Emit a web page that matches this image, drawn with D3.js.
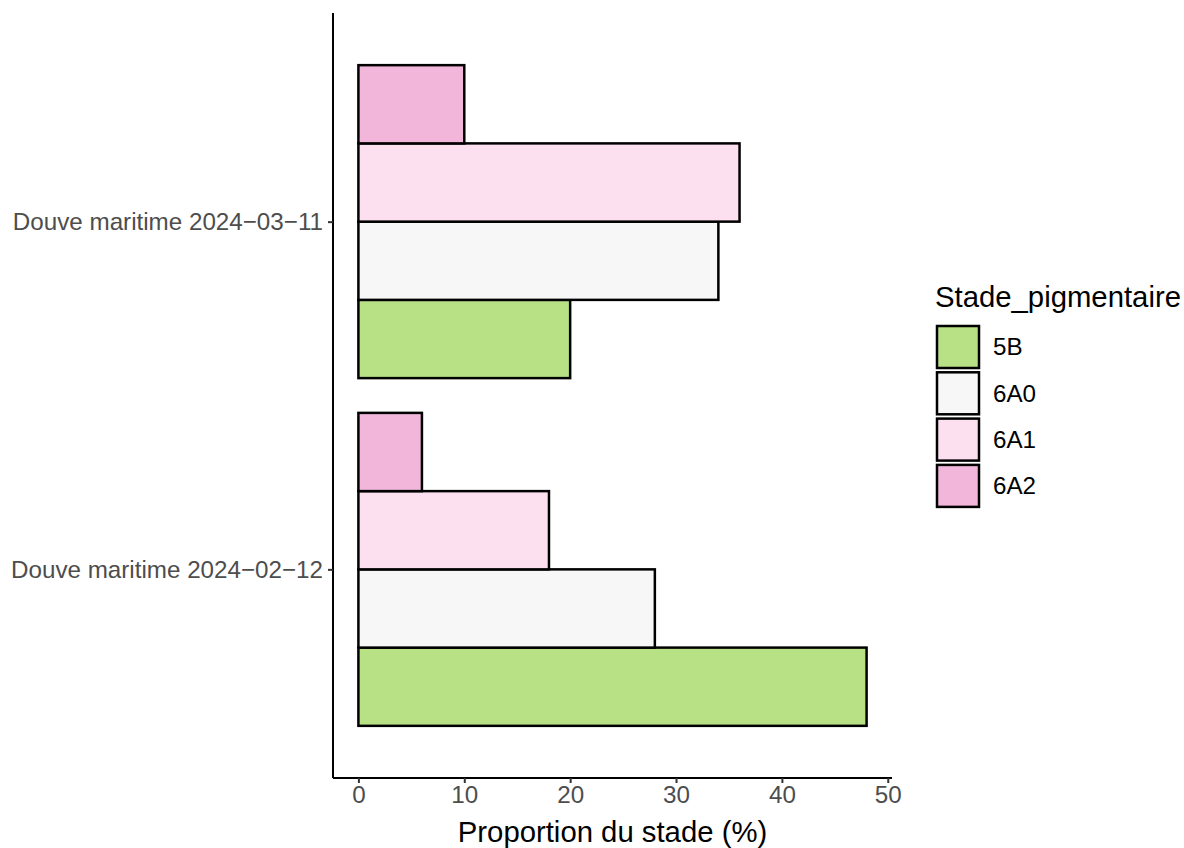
<!DOCTYPE html>
<html><head><meta charset="utf-8">
<script src="https://cdn.jsdelivr.net/npm/d3@7"></script>
<style>body{margin:0;background:#fff}svg{display:block;font-family:"Liberation Sans",Arial,sans-serif}</style>
</head><body><svg id="c" width="1184" height="848"></svg>
<script>
const groups = ["Douve maritime 2024\u221202\u221212", "Douve maritime 2024\u221203\u221211"];
const stages = ["5B", "6A0", "6A1", "6A2"];
const colors = ["#B8E186", "#F7F7F7", "#FDE0EF", "#F1B6DA"];
const values0212 = [48, 28, 18, 6];
const values0311 = [20, 34, 36, 10];
const xTicks = [0, 10, 20, 30, 40, 50];
const xTitle = "Proportion du stade (%)";
const legendTitle = "Stade_pigmentaire";

const data = [];
[values0212, values0311].forEach((vals, gi) => vals.forEach((v, si) => data.push({g: groups[gi], s: stages[si], v})));

const svg = d3.select("#c");
const L = 333, R = 892, T = 13, B = 778;
const tickFont = 24.2, titleFont = 29.3;
const x = d3.scaleLinear().domain([-2.4, 50.4]).range([L, R]);
const yPos = d3.scaleLinear().domain([0.4, groups.length + 0.6]).range([B, T]);
const bandPx = Math.abs(yPos(2) - yPos(1));
const inner = d3.scaleBand().domain(stages.slice().reverse()).range([-0.45 * bandPx, 0.45 * bandPx]).padding(0);
const color = d3.scaleOrdinal().domain(stages).range(colors);

svg.append("g").selectAll("rect").data(data).join("rect")
  .attr("x", d => x(0))
  .attr("y", d => yPos(groups.indexOf(d.g) + 1) + inner(d.s))
  .attr("width", d => x(d.v) - x(0))
  .attr("height", inner.bandwidth())
  .attr("fill", d => color(d.s))
  .attr("stroke", "#000").attr("stroke-width", 2.5);

const xAxis = svg.append("g").attr("transform", `translate(0,${B})`)
  .call(d3.axisBottom(x).tickValues(xTicks).tickSize(5).tickPadding(3).tickSizeOuter(0));
xAxis.attr("font-size", null).attr("font-family", null);
xAxis.select(".domain").attr("stroke", "#000").attr("stroke-width", 2).attr("d", `M${L},0H${R}`);
xAxis.selectAll(".tick line").attr("stroke", "#333").attr("stroke-width", 2);
xAxis.selectAll(".tick text").attr("fill", "#4d4d4d").style("font-size", tickFont + "px");

const yScaleCat = d3.scalePoint().domain(groups).range([yPos(1), yPos(2)]);
const yAxis = svg.append("g").attr("transform", `translate(${L},0)`)
  .call(d3.axisLeft(yScaleCat).tickSize(5).tickPadding(5).tickSizeOuter(0));
yAxis.attr("font-size", null).attr("font-family", null);
yAxis.select(".domain").attr("stroke", "#000").attr("stroke-width", 2).attr("d", `M0,${T}V${B}`);
yAxis.selectAll(".tick line").attr("stroke", "#333").attr("stroke-width", 2);
yAxis.selectAll(".tick text").attr("fill", "#4d4d4d").style("font-size", tickFont + "px");

svg.append("text").attr("x", (L + R) / 2).attr("y", 842).attr("text-anchor", "middle")
  .style("font-size", titleFont + "px").attr("fill", "#000").text(xTitle);

const lg = svg.append("g");
lg.append("text").attr("x", 935).attr("y", 307).style("font-size", titleFont + "px").attr("fill", "#000").text(legendTitle);
stages.forEach((s, i) => {
  const y0 = 326 + i * 46.3;
  lg.append("rect").attr("x", 937).attr("y", y0).attr("width", 42).attr("height", 42)
    .attr("fill", color(s)).attr("stroke", "#000").attr("stroke-width", 2.5);
  lg.append("text").attr("x", 993).attr("y", y0 + 21).attr("dy", "0.35em")
    .style("font-size", tickFont + "px").attr("fill", "#000").text(s);
});
</script></body></html>
